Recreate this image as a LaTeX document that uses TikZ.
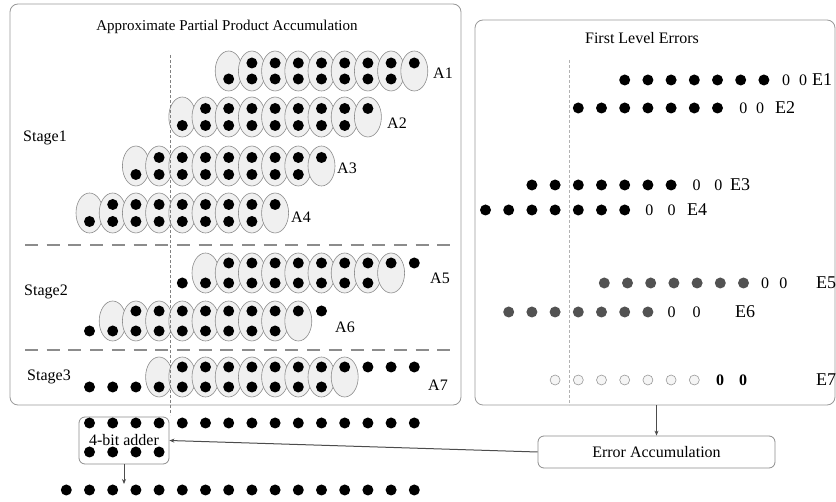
\documentclass[tikz,border=0pt]{standalone}
\usepackage{fontspec}
\setmainfont{Liberation Serif}
\usetikzlibrary{shapes.geometric,arrows.meta}

\tikzset{
  panel/.style={draw=black!40, line width=0.8pt, rounded corners=8pt, inner sep=0pt},
  title/.style={font=\fontsize{15}{17}\selectfont, inner sep=0pt},
  lbl/.style={font=\fontsize{16}{18}\selectfont, inner sep=0pt},
  cell/.style={ellipse, draw=black!45, fill=black!6, line width=0.6pt,
    minimum width=27pt, minimum height=40pt, inner sep=0pt},
  bit/.style={circle, fill=black, minimum size=11pt, inner sep=0pt},
  errbit/.style={bit, fill=black!68},
  nilbit/.style={circle, draw=black!40, fill=black!4, line width=0.6pt,
    minimum size=10pt, inner sep=0pt},
  sep/.style={draw=black!45, line width=2.5pt, dash pattern=on 13pt off 8.7pt},
  guide/.style={draw=black!50, line width=0.5pt, dash pattern=on 3pt off 2pt},
  boxed/.style={draw=black!45, line width=0.8pt, rounded corners=6pt,
    font=\fontsize{16}{18}\selectfont, inner sep=0pt},
  flow/.style={draw=black!70, line width=1pt, -{Stealth[length=5pt,width=4pt]}}
}

\begin{document}
\begin{tikzpicture}[x=1pt,y=-1pt]
  \useasboundingbox (0,0) rectangle (836,502);

  % the two panels
  \node[panel, minimum width=451pt, minimum height=401pt] (ppa) at (235.5,204.5) {};
  \node[title] (ppatitle) at (227,27) {Approximate Partial Product Accumulation};
  \node[panel, minimum width=360pt, minimum height=385pt] (fle) at (655,212.5) {};
  \node[title, font=\fontsize{16}{18}\selectfont] (fletitle) at (642,38) {First Level Errors};

  % partial product rows: row/start column/extra bits/centre/half gap
  \foreach \r/\s/\e/\y/\h in {1/6/0/71/8,2/4/0/117/8.5,3/2/0/166/8.5,4/0/0/213/8.5,
                              5/5/1/273/10,6/1/1/321/10,7/3/3/377/10}{
    \pgfmathtruncatemacro\tn{8+\e}
    \pgfmathtruncatemacro\bn{-\e}
    \foreach \c in {0,...,8}
      \node[cell] (a\r-e\c) at ({89.5+23.2*(\s+\c)},\y) {};
    \foreach \c in {1,...,\tn}
      \node[bit] (a\r-t\c) at ({89.5+23.2*(\s+\c)},{\y-\h}) {};
    \foreach \c in {\bn,...,7}
      \node[bit] (a\r-b\c) at ({89.5+23.2*(\s+\c)},{\y+\h}) {};
  }
  \foreach \r/\x/\y in {1/433/73,2/387/123,3/337/168,4/291/217,
                        5/430/278,6/335/327,7/428/385}
    \node[lbl, anchor=west] (a\r-lab) at (\x,\y) {A\r};

  \node[lbl, anchor=west] (stage1) at (23,138) {Stage1};
  \node[lbl, anchor=west] (stage2) at (24,292) {Stage2};
  \node[lbl, anchor=west] (stage3) at (27,377) {Stage3};

  \draw[sep] (25,245) -- (455,245);
  \draw[sep] (25,350) -- (455,350);
  \draw[guide] (170.7,55) -- (170.7,415);

  % final addition
  \node[boxed, minimum width=90pt, minimum height=47pt] (adder) at (124,440.5) {4-bit adder};
  \foreach \c in {0,...,14}
    \node[bit] (s1-\c) at ({89.5+23.2*\c},423) {};
  \foreach \c in {0,...,3}
    \node[bit] (s2-\c) at ({89.5+23.2*\c},452) {};
  \foreach \c in {-1,...,14}
    \node[bit] (s3-\c) at ({89.5+23.2*\c},490) {};
  \coordinate (sumin) at (124,484);

  % first level errors
  \draw[guide, draw=black!30] (569,60) -- (569,405);
  \foreach \r/\x/\y in {1/624.7/80,2/578.3/108,3/531.9/185,4/485.5/210}
    \foreach \c in {0,...,6}
      \node[bit] (e\r-\c) at ({\x+23.2*\c},\y) {};
  \foreach \r/\x/\y in {5/604.3/283,6/508.7/312}
    \foreach \c in {0,...,6}
      \node[errbit] (e\r-\c) at ({\x+23.2*\c},\y) {};
  \foreach \c in {0,...,6}
    \node[nilbit] (e7-\c) at ({555.1+23.2*\c},380) {};
  \foreach \r/\za/\zb/\l/\y in {1/786/803/822/80,2/743.3/760/785/108,
      3/696.7/718.3/740/185,4/649.3/671.7/697/210,5/765/783.3/826/283,
      6/671.7/696.7/745/312}{
    \node[lbl] (e\r-z1) at (\za,\y) {0};
    \node[lbl] (e\r-z2) at (\zb,\y) {0};
    \node[lbl, font=\fontsize{18}{20}\selectfont] (e\r-lab) at (\l,\y) {E\r};
  }
  \node[lbl] (e7-z1) at (720,380) {\textbf{0}};
  \node[lbl] (e7-z2) at (743,380) {\textbf{0}};
  \node[lbl, font=\fontsize{18}{20}\selectfont] (e7-lab) at (826,380) {E7};

  \node[boxed, minimum width=237pt, minimum height=32pt] (erracc) at (656.5,452) {Error Accumulation};

  \draw[flow] (fle.south -| erracc.north) -- (erracc.north);
  \draw[flow] (erracc.west) -- (adder.east);
  \draw[flow] (adder.south) -- (sumin);
\end{tikzpicture}
\end{document}
